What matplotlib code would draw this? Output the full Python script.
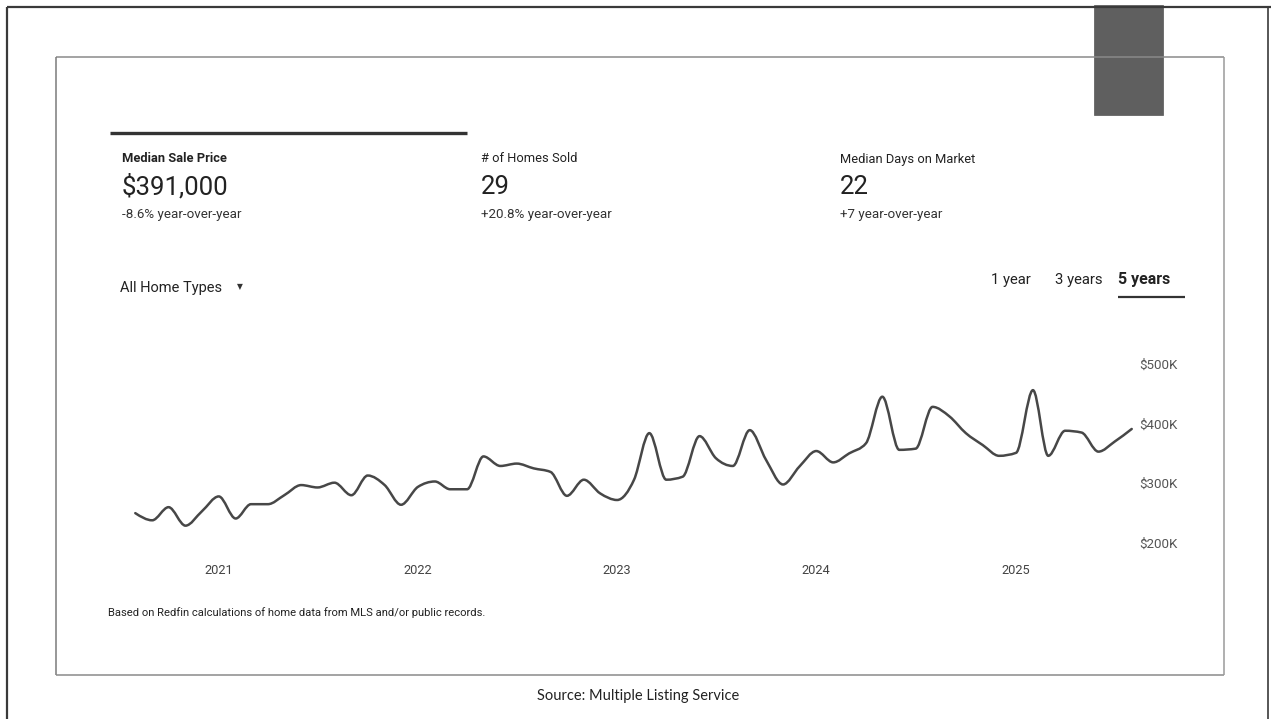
import numpy as np
import pandas as pd
import matplotlib
matplotlib.use('Agg')
import matplotlib.pyplot as plt
import matplotlib.dates as mdates
from matplotlib.path import Path
from matplotlib.patches import PathPatch, Rectangle
from matplotlib.lines import Line2D

# ---------------- data ----------------
months = pd.date_range('2020-08-01', '2025-08-01', freq='MS')
median_price_k = [
    250, 238, 260, 229, 253,                                   # 2020 Aug-Dec
    278, 241, 265, 265, 280, 297, 293, 301, 280, 313, 297, 264,  # 2021
    294, 303, 290, 290, 345, 329, 333, 325, 319, 279, 306, 283,  # 2022
    272, 306, 384, 306, 311, 379, 342, 329, 389, 339, 298, 328,  # 2023
    354, 335, 350, 367, 445, 356, 358, 428, 412, 384, 364, 346,  # 2024
    351, 456, 346, 388, 385, 353, 370, 391,                    # 2025 Jan-Aug
]
year_ticks = ['2021', '2022', '2023', '2024', '2025']
price_ticks_k = [200, 300, 400, 500]
price_tick_labels = ['$200K', '$300K', '$400K', '$500K']

metric_titles = ['Median Sale Price', '# of Homes Sold', 'Median Days on Market']
metric_values = ['$391,000', '29', '22']
metric_changes = ['-8.6% year-over-year', '+20.8% year-over-year', '+7 year-over-year']
range_options = ['1 year', '3 years', '5 years']

# ---------------- figure ----------------
W, H = 1271, 719
fig = plt.figure(figsize=(W / 100, H / 100), dpi=100)
fig.patch.set_facecolor('white')

def fx(x):
    return x / W

def fy(y):
    return 1 - y / H

def line(x0, y0, x1, y1, lw, color):
    fig.add_artist(Line2D([fx(x0), fx(x1)], [fy(y0), fy(y1)], transform=fig.transFigure,
                          lw=lw, color=color, solid_capstyle='butt'))

FONT = ['Roboto', 'DejaVu Sans']

# outer frame (scan border)
line(7, 7, 1271, 7, 1.6, '#3a3a3a')
line(7, 7, 7, 719, 1.6, '#3a3a3a')
line(1268, 7, 1268, 719, 1.2, '#3a3a3a')
# inner card
line(56, 57, 1224, 57, 1.1, '#8a8a8a')
line(56, 57, 56, 675, 1.1, '#7a7a7a')
line(56, 675, 1224, 675, 1.1, '#8a8a8a')
line(1224, 57, 1224, 675, 1.1, '#9a9a9a')
# dark tab
fig.add_artist(Rectangle((fx(1094), fy(115)), fx(1163) - fx(1094), fy(5) - fy(115),
                         transform=fig.transFigure, facecolor='#5f5f5f', edgecolor='#555555', lw=0.5))

# selected-metric bar
line(110, 133, 467, 133, 2.4, '#333333')

# metric headers
xs = [122, 481, 840]
for i in range(3):
    fig.text(fx(xs[i]), fy(159), metric_titles[i], fontsize=9.3, family=FONT, color='#222222',
             fontweight='bold' if i == 0 else 'normal', va='center', ha='left')
    fig.text(fx(xs[i]), fy(187), metric_values[i], fontsize=18.5, family=FONT, color='#222222',
             va='center', ha='left')
    fig.text(fx(xs[i]), fy(214), metric_changes[i], fontsize=9.6, family=FONT, color='#333333',
             va='center', ha='left')

# home type selector
fig.text(fx(120), fy(288), 'All Home Types', fontsize=10.5, family=FONT, color='#222222',
         va='center', ha='left')
fig.text(fx(237), fy(287), '\u25bc', fontsize=5.5, family=['DejaVu Sans'], color='#333333',
         va='center', ha='left')

# range selector
range_x = [991, 1055, 1118]
for i, opt in enumerate(range_options):
    fig.text(fx(range_x[i]), fy(280), opt, fontsize=10.7 if opt != '5 years' else 11.5,
             family=FONT, color='#222222',
             fontweight='bold' if opt == '5 years' else 'normal', va='center', ha='left')
line(1118, 297, 1185, 297, 1.6, '#333333')

# ---------------- chart ----------------
ax = fig.add_axes([fx(120), fy(560), fx(1135) - fx(120), fy(340) - fy(560)])
ax.patch.set_alpha(0)
for s in ax.spines.values():
    s.set_visible(False)

x = mdates.date2num(months.to_pydatetime())
y = np.asarray(median_price_k, dtype=float)

# monotone cubic (d3 curveMonotoneX style) rendering of the series
n = len(x)
h = np.diff(x)
sl = np.diff(y) / h
m = np.zeros(n)
for i in range(1, n - 1):
    s0, s1 = sl[i - 1], sl[i]
    p = (s0 * h[i] + s1 * h[i - 1]) / (h[i - 1] + h[i])
    m[i] = (np.sign(s0) + np.sign(s1)) * min(abs(s0), abs(s1), 0.5 * abs(p))
m[0] = (3 * sl[0] - m[1]) / 2
m[-1] = (3 * sl[-1] - m[-2]) / 2
verts = [(x[0], y[0])]
codes = [Path.MOVETO]
for i in range(n - 1):
    d = h[i] / 3
    verts += [(x[i] + d, y[i] + m[i] * d), (x[i + 1] - d, y[i + 1] - m[i + 1] * d), (x[i + 1], y[i + 1])]
    codes += [Path.CURVE4] * 3
ax.add_patch(PathPatch(Path(verts, codes), fill=False, edgecolor='#474747', lw=1.8,
                       capstyle='round', joinstyle='round', transform=ax.transData))

ax.set_xlim(mdates.date2num(pd.Timestamp('2020-07-04')), mdates.date2num(pd.Timestamp('2025-08-07')))
ax.set_ylim(171.5, 540)

ax.set_xticks([mdates.date2num(pd.Timestamp(f'{yr}-01-01')) for yr in year_ticks])
ax.set_xticklabels(year_ticks, fontsize=9.2, family=FONT, color='#444444')
ax.yaxis.tick_right()
ax.set_yticks(price_ticks_k)
ax.set_yticklabels(price_tick_labels, fontsize=9.6, family=FONT, color='#555555')
ax.tick_params(axis='both', length=0)
ax.tick_params(axis='x', pad=3)
ax.tick_params(axis='y', pad=3)

# footnote & source
fig.text(fx(108), fy(613), 'Based on Redfin calculations of home data from MLS and/or public records.',
         fontsize=8.1, family=FONT, color='#222222', va='center', ha='left')
fig.text(fx(638), fy(696), 'Source: Multiple Listing Service', fontsize=10.5, family=['Lato', 'DejaVu Sans'],
         color='#222222', va='center', ha='center')

fig.savefig('out.png', dpi=100, facecolor='white')
